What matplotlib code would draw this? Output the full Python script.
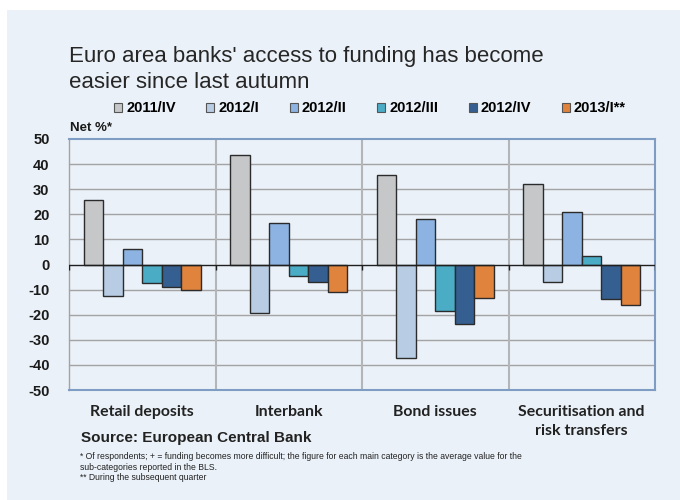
import matplotlib
matplotlib.use("Agg")
import matplotlib.pyplot as plt
import numpy as np
from matplotlib.patches import Rectangle

categories = ["Retail deposits", "Interbank", "Bond issues",
              "Securitisation and\nrisk transfers"]
series = ["2011/IV", "2012/I", "2012/II", "2012/III", "2012/IV", "2013/I**"]
values = {
    "2011/IV":  [25.5, 43.5, 35.6, 32.1],
    "2012/I":   [-12.5, -19.5, -37.2, -6.8],
    "2012/II":  [6.0, 16.5, 18.0, 21.0],
    "2012/III": [-7.4, -4.4, -18.6, 3.3],
    "2012/IV":  [-9.0, -7.0, -23.6, -13.7],
    "2013/I**": [-10.0, -11.0, -13.5, -16.3],
}
colors = ["#c6c7c9", "#b8cce4", "#8db3e2", "#4bacc6", "#365f91", "#e0833c"]
yticks = list(range(-50, 51, 10))

BG = "#eaf1f8"
sans = ["Liberation Sans", "DejaVu Sans"]

fig = plt.figure(figsize=(6.8, 5), dpi=100)
fig.patch.set_facecolor("white")
fig.patches.append(Rectangle((7 / 680, 0), 1, 1 - 10 / 500, transform=fig.transFigure,
                             facecolor=BG, edgecolor="none", zorder=-10))

ax = fig.add_axes([69 / 680, 1 - 390 / 500, (655 - 69) / 680, (390 - 139) / 500])
ax.set_facecolor(BG)

n_cat = len(categories)
n_ser = len(series)
group_w = 0.8
bar_w = group_w / n_ser
x = np.arange(n_cat)

for i, (name, col) in enumerate(zip(series, colors)):
    offs = -group_w / 2 + bar_w * (i + 0.5)
    ax.bar(x + offs, values[name], width=bar_w, color=col, edgecolor="#2b2b2b",
           linewidth=1.0, zorder=3, label=name)

ax.set_xlim(-0.5, n_cat - 0.5)
ax.set_ylim(-50, 50)
ax.set_yticks(yticks)
ax.set_yticklabels([str(t) for t in yticks], fontfamily=sans, fontweight="bold",
                   fontsize=10.5, color="#1a1a1a")
for t in yticks:
    if t not in (0, -50, 50):
        ax.axhline(t, color="#a3a3a3", lw=1.0, zorder=1)

bounds = np.arange(n_cat - 1) + 0.5
for b in bounds:
    ax.axvline(b, color="#b3b5b8", lw=1.5, zorder=1)
ax.axhline(0, color="#1f1f1f", lw=1.0, zorder=4)
ax.vlines(np.concatenate([[-0.5], bounds, [n_cat - 0.5]]), -2, 0,
          color="#1f1f1f", lw=1.0, zorder=4)

ax.set_xticks(x)
ax.set_xticklabels(categories, fontfamily=["Lato", "DejaVu Sans"], fontweight="bold",
                   fontsize=11.4, color="#222222", linespacing=1.4)
ax.tick_params(axis="x", length=0, pad=11)
ax.tick_params(axis="y", length=0, pad=14)

for side in ("top", "bottom", "right"):
    ax.spines[side].set_color("#7f9cc4")
    ax.spines[side].set_linewidth(1.5)
ax.spines["left"].set_color("#a3a3a3")
ax.spines["left"].set_linewidth(1.0)

title_lines = ["Euro area banks' access to funding has become",
               "easier since last autumn"]
for line, ypx in zip(title_lines, (62, 88)):
    fig.text(69 / 680, 1 - ypx / 500, line, fontfamily=sans, fontsize=16,
             color="#262626", va="baseline", ha="left")

fig.text(70 / 680, 1 - 131 / 500, "Net %*", fontfamily=sans, fontweight="bold",
         fontsize=9.5, color="#1a1a1a", va="baseline")

leg = fig.legend(loc="center", bbox_to_anchor=(370 / 680, 1 - 108.5 / 500), ncol=6,
                 frameon=False, handlelength=0.55, handleheight=0.55, handletextpad=0.27,
                 columnspacing=2.1, borderpad=0, borderaxespad=0,
                 prop={"family": sans, "weight": "bold", "size": 10.5})
for h in leg.legend_handles:
    h.set_linewidth(0.8)
    h.set_edgecolor("#555555")

fig.text(81 / 680, 1 - 442 / 500, "Source: European Central Bank", fontfamily=sans,
         fontweight="bold", fontsize=11, color="#222222", va="baseline")
notes = ("* Of respondents; + = funding becomes more difficult; the figure for each main "
         "category is the average value for the\nsub-categories reported in the BLS.\n"
         "** During the subsequent quarter")
fig.text(80 / 680, 1 - 452 / 500, notes, fontfamily=["Liberation Sans Narrow"] + sans,
         fontsize=6.2, color="#222222", va="top", linespacing=1.25)

fig.savefig("out.png", dpi=100, facecolor=fig.get_facecolor())
